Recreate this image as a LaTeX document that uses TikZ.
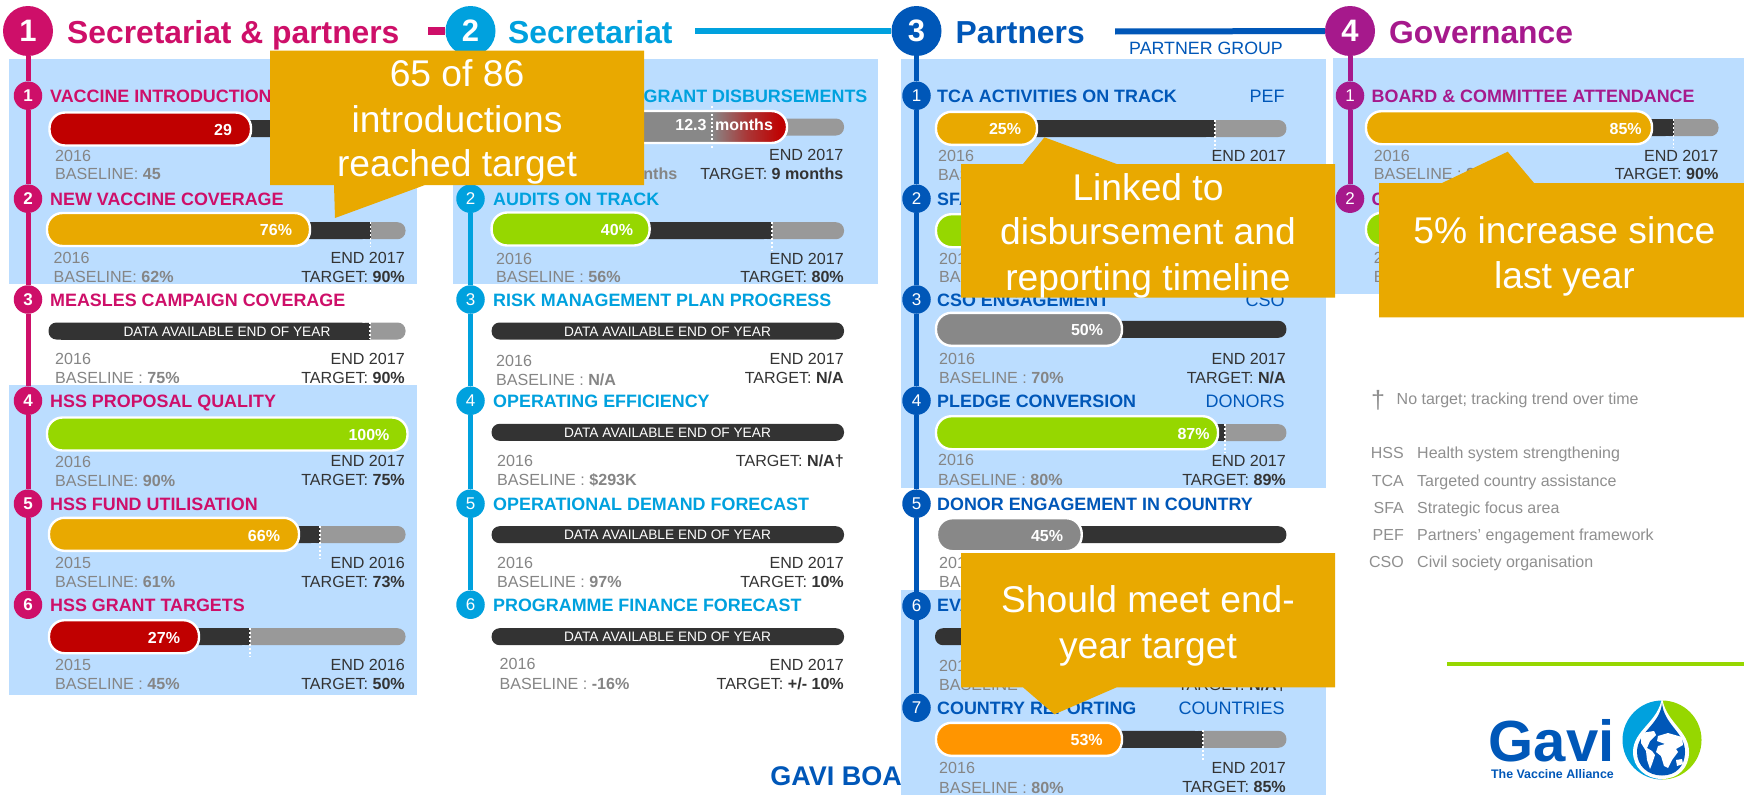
\documentclass[tikz,border=0pt]{standalone}
\usepackage{fontspec}
\setmainfont{Liberation Sans}
\usetikzlibrary{shapes.geometric}
\definecolor{cpink}{HTML}{CE0F69}
\definecolor{ccyan}{HTML}{00A1DE}
\definecolor{cblue}{HTML}{0057B8}
\definecolor{cpurp}{HTML}{A6198C}
\definecolor{panel}{HTML}{BBDDFF}
\definecolor{callout}{HTML}{E9A900}
\definecolor{cred}{HTML}{C00000}
\definecolor{cgreen}{HTML}{96D700}
\definecolor{corange}{HTML}{FF9500}
\definecolor{bdark}{HTML}{333333}
\definecolor{bgrey}{HTML}{999999}
\definecolor{pgrey}{HTML}{888888}
\definecolor{tgrey}{HTML}{858585}
\definecolor{lgrey}{HTML}{8F8F8F}
\newcommand\fsz[1]{\fontsize{#1}{#1}\selectfont}
\newcounter{nn}
\tikzset{
 x=1pt,y=-1pt,
 headcirc/.style={circle,minimum size=50,inner sep=0,text=white,font=\fsz{31}\bfseries},
 rowcirc/.style={circle,minimum size=28.5,inner sep=0,text=white,font=\fsz{17}},
 headtxt/.style={anchor=west,inner sep=0,text height=22pt,text depth=0pt,font=\fsz{31.8}\bfseries},
 rowtitle/.style={anchor=west,inner sep=0,text height=13pt,text depth=0pt,font=\fsz{17.9}\bfseries},
 rowside/.style={anchor=east,inner sep=0,text height=13pt,text depth=0pt,font=\fsz{18}},
 pillval/.style={inner sep=0,text height=11.5pt,text depth=0pt,text=white,font=\fsz{16}\bfseries},
 stattxt/.style={inner sep=0,text height=11.5pt,text depth=0pt,font=\fsz{16.1}},
 datatxt/.style={inner sep=0,text height=10pt,text depth=0pt,text=white,font=\fsz{13.7}},
 calltxt/.style={inner sep=0,text=white,text height=26pt,text depth=0pt,font=\fsz{37.2}},
 legtxt/.style={inner sep=0,text height=11.5pt,text depth=0pt,text=lgrey,font=\fsz{16}},
 tline/.style={line width=5pt},
 hline/.style={line width=6pt},
 dots/.style={white,line width=1.3pt,dash pattern=on 2pt off 2pt},
}
\newcommand\nxt{\stepcounter{nn}}
% plain bar with target line: xL xT xR y yDotEnd
\newcommand\tbar[5]{%
 \fill[bgrey,rounded corners=8] (#2-12,#4-8.5) rectangle (#3,#4+8.5);
 \fill[bdark,rounded corners=8] (#1,#4-8.5) rectangle (#2-1,#4+8.5);
 \fill[bdark] (#1+12,#4-8.5) rectangle (#2,#4+8.5);
 \draw[dots] (#2,#4-9) -- (#2,#5);
}
\newcommand\dbar[3]{\fill[bdark,rounded corners=8] (#1,#3-8.5) rectangle (#2,#3+8.5);}
\newcommand\pill[4]{% xL xR y colour
 \filldraw[draw=white,line width=2.4pt,fill=#4,rounded corners=15.5] (#1,#3-16.5) rectangle (#2,#3+16.5);
}
\newcommand\leftstat[6]{\nxt
 \node[stattxt,anchor=west,text=tgrey] (s\thenn) at (#1,#2) {#4};\nxt
 \node[stattxt,anchor=west,text=tgrey] (s\thenn) at (#1,#3) {#5\textbf{#6}};}
\newcommand\rightstat[5]{\nxt
 \node[stattxt,anchor=east,text=bdark] (s\thenn) at (#1,#2) {#4};\nxt
 \node[stattxt,anchor=east,text=bdark] (s\thenn) at (#1,#3) {TARGET: \textbf{#5}};}
\newcommand\val[3]{\nxt\node[pillval] (s\thenn) at (#1,#2) {#3};}
\newcommand\datat[2]{\nxt\node[datatxt] (s\thenn) at (#1,#2) {DATA AVAILABLE END OF YEAR};}
\begin{document}
\begin{tikzpicture}
\useasboundingbox (0,0) rectangle (1744,795);
\fill[white] (0,0) rectangle (1744,795);
% text tucked behind the panel
\node[anchor=east,inner sep=0,text height=19pt,text depth=0pt,text=cblue,font=\fsz{27}\bfseries] (gavib) at (902,776) {GAVI BOA};
% panels
\fill[panel] (9,59) rectangle (417,284);
\fill[panel] (9,385) rectangle (417,695);
\fill[panel] (453,59) rectangle (878,284);
\fill[panel] (901,59) rectangle (1326,488);
\fill[panel] (901,590) rectangle (1326,795);
\fill[panel] (1333,58) rectangle (1744,294);
% header circles
\node[headcirc,fill=cpink] (h1) at (28,31) {1};
\node[headcirc,fill=ccyan] (h2) at (470.5,31) {2};
\node[headcirc,fill=cblue] (h3) at (916.5,31) {3};
\node[headcirc,fill=cpurp] (h4) at (1350,31) {4};
\node[headtxt,text=cpink] (t1) at (67,32) {Secretariat \& partners};
\node[headtxt,text=ccyan] (t2) at (508,32) {Secretariat};
\node[headtxt,text=cblue] (t3) at (955.5,32) {Partners};
\node[headtxt,text=cpurp] (t4) at (1389,32) {Governance};
\coordinate (c1) at (428,31);
\coordinate (c2) at (695,31);
\coordinate (c3) at (1115,31.5);
\draw[hline,cpink,line width=7.5pt] (c1) -- (h2);
\draw[hline,ccyan] (c2) -- (h3);
\draw[hline,cblue] (c3) -- (h4);
\node[anchor=west,inner sep=0,text height=12.5pt,text depth=0pt,text=cblue,font=\fsz{17.8}] (pg) at (1129,48) {PARTNER GROUP};
% row circles
\foreach \n/\y in {1/95.7,2/198.7,3/299.5,4/400.7,5/503.7,6/604.7}{
 \node[rowcirc,fill=cpink,font=\fsz{17}\bfseries] (a\n) at (28,\y) {\n};
 \node[rowcirc,fill=ccyan] (b\n) at (470.5,\y) {\n};
}
\foreach \n/\y in {1/95.7,2/198.7,3/299.5,4/400.7,5/503.7,6/606,7/707.7}{
 \node[rowcirc,fill=cblue] (e\n) at (916.5,\y) {\n};
}
\node[rowcirc,fill=cpurp] (d1) at (1350,95.7) {1};
\node[rowcirc,fill=cpurp] (d2) at (1350,198.7) {2};
% timelines
\draw[tline,cpink] (h1)--(a1) (a1)--(a2) (a2)--(a3) (a3)--(a4) (a4)--(a5) (a5)--(a6);
\draw[tline,ccyan] (h2)--(b1) (b1)--(b2) (b2)--(b3) (b3)--(b4) (b4)--(b5) (b5)--(b6);
\draw[tline,cblue] (h3)--(e1) (e1)--(e2) (e2)--(e3) (e3)--(e4) (e4)--(e5) (e5)--(e6) (e6)--(e7);
\draw[tline,cpurp] (h4)--(d1) (d1)--(d2);
% ---- column 1
\tikzset{rowtitle/.append style={text=cpink}}
\node[rowtitle] (ta1) at (50,95.7) {VACCINE INTRODUCTION};
\dbar{50}{300}{128.5}
\pill{49.5}{251}{129}{cred}
\val{223}{129.5}{29}
\leftstat{55}{155.7}{174}{2016}{BASELINE: }{45}

\node[rowtitle] (ta2) at (50,198.7) {NEW VACCINE COVERAGE};
\tbar{47}{370.5}{405.5}{230.7}{247}
\pill{47}{310}{229.5}{callout}
\val{276}{230}{76\%}
\leftstat{53.5}{257.7}{276.7}{2016}{BASELINE: }{62\%}
\rightstat{405}{258}{277}{END 2017}{90\%}

\node[rowtitle] (ta3) at (50,299.5) {MEASLES CAMPAIGN COVERAGE};
\tbar{48.5}{370}{405.5}{331}{339}
\datat{227}{331}
\leftstat{55}{359}{377.7}{2016}{BASELINE : }{75\%}
\rightstat{405}{359}{377.7}{END 2017}{90\%}

\node[rowtitle] (ta4) at (50,400.7) {HSS PROPOSAL QUALITY};
\pill{47}{407.5}{434}{cgreen}
\val{369}{434.5}{100\%}
\leftstat{55}{461.7}{480.7}{2016}{BASELINE: }{90\%}
\rightstat{405}{460.7}{479.7}{END 2017}{75\%}

\node[rowtitle] (ta5) at (50,503.7) {HSS FUND UTILISATION};
\tbar{49}{320}{405.5}{534.5}{558}
\pill{49}{299}{534.3}{callout}
\val{264}{535.5}{66\%}
\leftstat{55}{562.7}{581.7}{2015}{BASELINE: }{61\%}
\rightstat{405}{562.7}{581.7}{END 2016}{73\%}

\node[rowtitle] (ta6) at (50,604.7) {HSS GRANT TARGETS};
\tbar{49}{250}{405.5}{636.7}{657}
\pill{49}{199}{636.7}{cred}
\val{164}{637.5}{27\%}
\leftstat{55}{665}{684}{2015}{BASELINE : }{45\%}
\rightstat{405}{664.7}{683.7}{END 2016}{50\%}

% ---- column 2
\tikzset{rowtitle/.append style={text=ccyan}}
\node[rowtitle,anchor=east] (tb1) at (867.6,95.7) {GRANT DISBURSEMENTS};
\fill[bgrey,rounded corners=8] (700,118.5) rectangle (844,135.5);
\begin{scope}
\clip[rounded corners=15.5] (600,111) rectangle (787,143);
\fill[pgrey] (600,111) rectangle (787,143);
\shade[left color=pgrey,right color=cred,middle color=cred!60!pgrey] (712,111) rectangle (782,143);
\fill[cred] (780,111) rectangle (787,143);
\end{scope}
\draw[white,line width=2.4pt,rounded corners=15.5] (600,111) rectangle (787,143);
\draw[dots] (712,106) -- (712,148);
\val{691}{125}{12.3}
\val{744}{125}{months}
\nxt\node[stattxt,anchor=east,text=tgrey,font=\fsz{16.1}\bfseries] (s\thenn) at (677.5,173.7) {nths};
\rightstat{843.5}{154.3}{173.7}{END 2017}{9 months}

\node[rowtitle] (tb2) at (493,198.7) {AUDITS ON TRACK};
\tbar{491.6}{772}{844}{230.7}{250}
\pill{491.6}{649.6}{229}{cgreen}
\val{617}{229.5}{40\%}
\leftstat{496}{259}{277}{2016}{BASELINE : }{56\%}
\rightstat{844}{259}{277}{END 2017}{80\%}

\node[rowtitle] (tb3) at (493,299.5) {RISK MANAGEMENT PLAN PROGRESS};
\dbar{491.6}{844}{331}
\datat{667.5}{331}
\leftstat{496}{360.7}{379.3}{2016}{BASELINE : }{N/A}
\rightstat{844}{359}{377.7}{END 2017}{N/A}

\node[rowtitle] (tb4) at (493,400.7) {OPERATING EFFICIENCY};
\dbar{491.6}{844}{432.3}
\datat{667.5}{432.3}
\leftstat{497}{460.7}{479.3}{2016}{BASELINE : }{\$293K}
\nxt\node[stattxt,anchor=east,text=bdark] (s\thenn) at (844,460.7) {TARGET: \textbf{N/A†}};

\node[rowtitle] (tb5) at (493,503.7) {OPERATIONAL DEMAND FORECAST};
\dbar{491.6}{844}{534.7}
\datat{667.5}{534.7}
\leftstat{497}{562.7}{581.7}{2016}{BASELINE : }{97\%}
\rightstat{844}{562.7}{581.7}{END 2017}{10\%}

\node[rowtitle] (tb6) at (493,604.7) {PROGRAMME FINANCE FORECAST};
\dbar{491.6}{844}{636.7}
\datat{667.5}{636.7}
\leftstat{499.5}{663.7}{683.7}{2016}{BASELINE : }{-16\%}
\rightstat{844}{664.7}{683.7}{END 2017}{+/- 10\%}

% ---- column 3
\tikzset{rowtitle/.append style={text=cblue},rowside/.append style={text=cblue}}
\node[rowtitle] (te1) at (937,95.7) {TCA ACTIVITIES ON TRACK};
\node[rowside] (se1) at (1284.7,95.7) {PEF};
\tbar{936}{1215}{1286.4}{128.5}{148}
\pill{936}{1037}{128.3}{callout}
\val{1005}{129}{25\%}
\leftstat{938}{155.7}{175}{2016}{BASELINE}{}
\nxt\node[stattxt,anchor=east,text=bdark] (s\thenn) at (1286,155.7) {END 2017};

\node[rowtitle] (te2) at (937,198.7) {SFA};
\pill{936}{1100}{230.7}{cgreen}
\leftstat{939}{258.3}{277}{2016}{BASELINE}{}

\node[rowtitle] (te3) at (937,299.5) {CSO ENGAGEMENT};
\node[rowside] (se3) at (1284.7,299.5) {CSO};
\dbar{936}{1286.4}{329.3}
\pill{936}{1122}{329.3}{pgrey}
\val{1087}{329.5}{50\%}
\leftstat{939}{359}{377.7}{2016}{BASELINE : }{70\%}
\rightstat{1286}{359}{377.7}{END 2017}{N/A}

\node[rowtitle] (te4) at (937,400.7) {PLEDGE CONVERSION};
\node[rowside] (se4) at (1284.7,400.7) {DONORS};
\tbar{936}{1225}{1286.4}{432.7}{453}
\pill{936}{1218}{432.7}{cgreen}
\val{1193.5}{434}{87\%}
\leftstat{938}{459.7}{479.3}{2016}{BASELINE : }{80\%}
\rightstat{1286}{460.7}{479.7}{END 2017}{89\%}

\node[rowtitle] (te5) at (937,503.7) {DONOR ENGAGEMENT IN COUNTRY};
\dbar{936}{1286.4}{534.7}
\pill{937}{1081.7}{534.7}{pgrey}
\val{1047}{535.5}{45\%}
\leftstat{939}{563}{581.7}{2016}{BASELINE}{}

\node[rowtitle] (te6) at (937,605) {EVA};
\dbar{935}{1100}{636.7}
\leftstat{939}{665.7}{685}{2016}{BASELINE}{}
\nxt\node[stattxt,anchor=east,text=bdark] (s\thenn) at (1286,684.7) {TARGET: \textbf{N/A†}};

\node[rowtitle] (te7) at (937,707.7) {COUNTRY REPORTING};
\node[rowside] (se7) at (1284.7,707.7) {COUNTRIES};
\tbar{936}{1203}{1286.4}{739.3}{760}
\pill{936}{1122}{739.3}{corange}
\val{1086.7}{740}{53\%}
\leftstat{939}{767.7}{787.7}{2016}{BASELINE : }{80\%}
\rightstat{1286}{767.7}{786.7}{END 2017}{85\%}

% ---- column 4
\tikzset{rowtitle/.append style={text=cpurp}}
\node[rowtitle] (td1) at (1371.5,95.7) {BOARD \& COMMITTEE ATTENDANCE};
\tbar{1366}{1673.5}{1718.5}{127.7}{148}
\pill{1366}{1652}{127.7}{callout}
\val{1625.6}{128.5}{85\%}
\leftstat{1373.7}{155.7}{174}{2016}{BASELINE : }{8}
\rightstat{1718.5}{155.7}{174}{END 2017}{90\%}
\node[rowtitle] (td2) at (1371.5,198.7) {G};
\pill{1366}{1450}{229.3}{cgreen}
\leftstat{1373.7}{258}{277}{2016}{BASELINE}{}

% ---- callouts
\fill[callout] (270,50.7) -- (644,50.7) -- (644,185) -- (425,185) -- (335,218) -- (334,185) -- (270,185) -- cycle;
\fill[callout] (961,164) -- (1023,164) -- (1044.4,137.3) -- (1116.7,164) -- (1335,164) -- (1335,297.7) -- (961,297.7) -- cycle;
\fill[callout] (961,553) -- (1335,553) -- (1335,687.3) -- (1116.7,687.3) -- (1054.4,714.3) -- (1023,687.3) -- (961,687.3) -- cycle;
\fill[callout] (1379,183) -- (1442,183) -- (1507.7,151.7) -- (1534,183) -- (1744,183) -- (1744,317.3) -- (1379,317.3) -- cycle;
\node[calltxt] (k1) at (457,73.5) {65 of 86};
\node[calltxt] (k2) at (457,119) {introductions};
\node[calltxt] (k3) at (457,163) {reached target};
\node[calltxt] (k4) at (1148,187) {Linked to};
\node[calltxt] (k5) at (1148,231.7) {disbursement and};
\node[calltxt] (k6) at (1148,277.3) {reporting timeline};
\node[calltxt] (k7) at (1148,599.3) {Should meet end-};
\node[calltxt] (k8) at (1148,645) {year target};
\node[calltxt] (k9) at (1564.4,230) {5\% increase since};
\node[calltxt] (k10) at (1564.4,275) {last year};
% ---- legend
\node[legtxt,anchor=center,font=\fsz{25}] (g0) at (1378,403) {†};
\node[legtxt,anchor=west] (g1) at (1396.5,399) {No target; tracking trend over time};
\foreach \n/\a/\b/\y in {2/HSS/Health system strengthening/453,3/TCA/Targeted country assistance/481,4/SFA/Strategic focus area/507.7,5/PEF/Partners' engagement framework/535,6/CSO/Civil society organisation/561.7}{
 \node[legtxt,anchor=east] (ga\n) at (1404,\y) {\a};
 \node[legtxt,anchor=west] (gb\n) at (1417,\y) {\b};
}
\coordinate (lg1) at (1447,664);
\coordinate (lg2) at (1744,664);
\draw[cgreen,line width=3.6pt] (lg1) -- (lg2);
% ---- logo
\node[anchor=base west,inner sep=0,text=cblue,font=\fsz{58}\bfseries] (gv) at (1488.5,761.7) {Gavi};
\node[anchor=base east,inner sep=0,text=cblue,font=\fsz{12.4}\bfseries] (gv2) at (1614,778.5) {The Vaccine Alliance};
\begin{scope}
\clip (1662,740) circle (39.5);
\fill[ccyan] (1620,695) rectangle (1662,785);
\fill[cgreen] (1662,695) rectangle (1705,785);
\end{scope}
\fill[white] (1662,697) .. controls (1659,722) and (1633,730) .. (1633,752) .. controls (1633,768) and (1646,779) .. (1662,779) .. controls (1678,779) and (1689,768) .. (1689,752) .. controls (1689,730) and (1665,722) .. (1662,697) -- cycle;
\fill[cblue] (1662,703) .. controls (1660,725) and (1637,732) .. (1637,752) .. controls (1637,766) and (1648,775.5) .. (1662,775.5) .. controls (1676,775.5) and (1685,766) .. (1685,752) .. controls (1685,732) and (1664,725) .. (1662,703) -- cycle;
\fill[white] (1641,733) -- (1654,731) -- (1656,735) -- (1650,741) -- (1647,748) -- (1652,751) -- (1655,755) -- (1652,764) -- (1650,769) -- (1647,760) -- (1646,751) -- (1641,743) -- cycle;
\fill[white] (1658,736) -- (1668,733) -- (1682,737) -- (1683,745) -- (1676,749) -- (1678,752) -- (1672,760) -- (1668,768) -- (1664,766) -- (1661,756) -- (1656,752) -- (1658,746) -- (1665,744) -- (1657,741) -- cycle;
\fill[white] (1676,760) -- (1682,759) -- (1683,764) -- (1677,766) -- cycle;
\end{tikzpicture}
\end{document}
